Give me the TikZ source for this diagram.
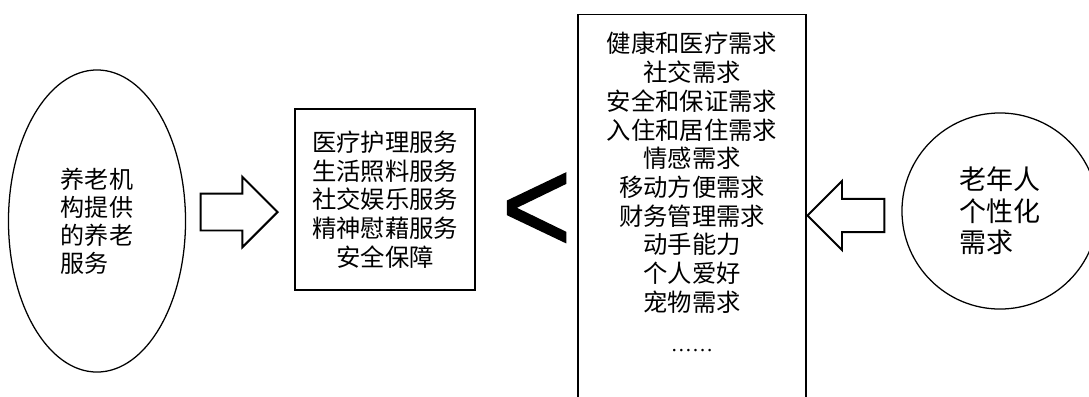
\documentclass[tikz,border=0pt]{standalone}
\usepackage{fontspec}
\setmainfont{Noto Sans CJK SC}
\newfontfamily\latinsans[FakeBold=1]{Liberation Sans}
\newfontfamily\latinserif{Liberation Serif}
\usetikzlibrary{shapes.geometric}
\usetikzlibrary{shapes.arrows}
\tikzset{textbox/.style={draw, line width=0.9pt, inner sep=0pt}}
\tikzset{bigarrow/.style={single arrow, draw, line width=1.4pt, minimum height=1.925cm, single arrow tip angle=90, inner xsep=0pt, anchor=tip}}
\tikzset{cjk/.style={font=\fontsize{17.3pt}{20.4pt}\selectfont, align=center, inner sep=0pt}}

\begin{document}
\begin{tikzpicture}[x=0.025cm,y=-0.025cm]
    \useasboundingbox (0,0) rectangle (1089,396);
    % services offered
    \node[ellipse, draw, line width=0.9pt, minimum width=4.425cm, minimum height=7.55cm,
          font=\fontsize{17.1pt}{19.9pt}\selectfont, align=left] (inst) at (97,221)
          {养老机\\构提供\\的养老\\服务};
    \node[textbox, minimum width=4.5cm, minimum height=4.525cm, cjk] (serv) at (385,199.5)
          {医疗护理服务\\生活照料服务\\社交娱乐服务\\精神慰藉服务\\安全保障};
    \node[inner sep=0pt, anchor=base, xscale=0.88, transform shape,
          font=\latinsans\fontsize{97pt}{97pt}\selectfont] (lt) at (536.5,252.7) {<};
    % needs
    \node[textbox, minimum width=5.7cm, minimum height=10cm, anchor=north] (needs) at (692,14) {};
    \node[cjk, anchor=north] (needlist) at ([yshift=-0.45cm]needs.north)
          {健康和医疗需求\\社交需求\\安全和保证需求\\入住和居住需求\\情感需求\\移动方便需求\\财务管理需求\\动手能力\\个人爱好\\宠物需求\\[0.3cm]{\latinserif\fontsize{15pt}{15pt}\selectfont ……}};
    \node[circle, draw, line width=0.9pt, minimum size=4.9cm,
          font=\fontsize{19.2pt}{22.5pt}\selectfont, align=left] (elder) at (1000,211)
          {老年人\\个性化\\需求};
    \foreach \x/\y/\lab/\rot/\sh/\ext in {
      279/212/toServ/0/0.4375cm/0.42cm,
      806/215.5/toNeeds/180/0.39cm/0.45cm%
    } {
      \node[bigarrow, shape border rotate=\rot, inner ysep=\sh, single arrow head extend=\ext] (\lab) at (\x, \y) {};
    }
\end{tikzpicture}
\end{document}
